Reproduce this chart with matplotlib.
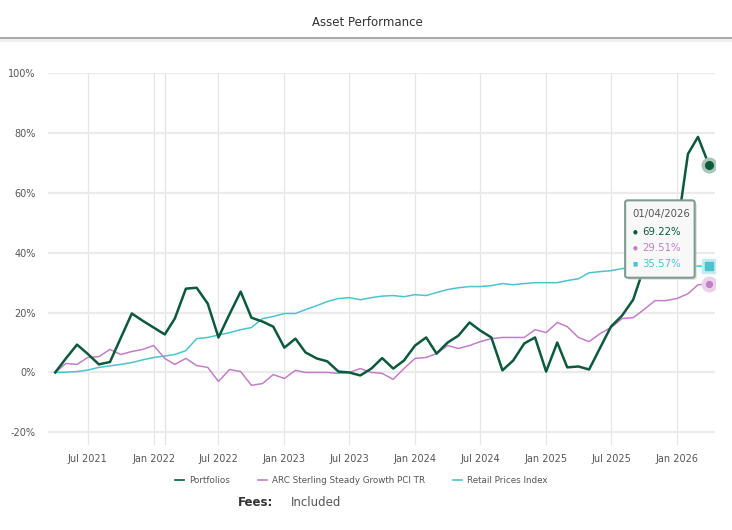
import pandas as pd
import matplotlib.pyplot as plt
import matplotlib.dates as mdates
from matplotlib.patches import FancyBboxPatch
from matplotlib.ticker import FuncFormatter

# Monthly cumulative returns (%), Apr 2021 - Apr 2026
dates = pd.date_range("2021-04-01", periods=61, freq="MS")

portfolios = [0, 4.7, 9.3, 6.2, 2.7, 3.5, 11.5, 19.7, 17.3, 15.0,
              12.7, 18.0, 28.0, 28.3, 23.0, 11.7, 19.5, 27.0, 18.3, 17.0,
              15.3, 8.3, 11.3, 6.7, 4.7, 3.7, 0.3, 0.0, -1.0, 1.3,
              4.8, 1.3, 4.0, 9.0, 11.7, 6.3, 10.0, 12.3, 16.7, 14.0,
              11.7, 0.7, 4.0, 9.7, 11.7, 0.3, 10.0, 1.7, 2.0, 1.0,
              8.3, 15.3, 19.0, 24.3, 35.0, 39.0, 43.0, 47.0, 73.0, 78.7,
              69.22]

arc = [0, 3.0, 2.7, 5.0, 5.3, 7.7, 6.0, 7.0, 7.7, 9.0,
       4.7, 2.7, 4.7, 2.3, 1.7, -3.0, 1.0, 0.3, -4.3, -3.7,
       -0.7, -2.0, 0.7, 0.0, 0.0, 0.0, -0.3, 0.0, 1.3, 0.0,
       -0.3, -2.3, 1.3, 4.7, 5.0, 6.3, 9.0, 8.0, 9.0, 10.3,
       11.3, 11.7, 11.7, 11.7, 14.3, 13.3, 16.7, 15.3, 11.7, 10.3,
       13.0, 15.0, 18.0, 18.3, 21.0, 24.0, 24.0, 24.7, 26.3, 29.3,
       29.51]

rpi = [0, 0.1, 0.3, 0.8, 1.7, 2.2, 2.7, 3.3, 4.2, 5.0,
       5.5, 6.0, 7.3, 11.3, 11.7, 12.5, 13.3, 14.3, 15.0, 18.0,
       18.7, 19.7, 19.7, 21.0, 22.3, 23.7, 24.7, 25.0, 24.3, 25.0,
       25.5, 25.7, 25.3, 26.0, 25.7, 26.7, 27.7, 28.3, 28.7, 28.7,
       29.0, 29.7, 29.3, 29.7, 30.0, 30.0, 30.0, 30.7, 31.3, 33.3,
       33.7, 34.0, 34.7, 35.0, 35.2, 35.3, 35.4, 35.5, 35.5, 35.5,
       35.57]

names = ["Portfolios", "ARC Sterling Steady Growth PCI TR", "Retail Prices Index"]
colors = ["#0b5a3c", "#c27fc8", "#4cc3cd"]
halos = ["#a9c4b8", "#e8d2ea", "#c4ecef"]

fig = plt.figure(figsize=(7.32, 5.30), dpi=100)
ax = fig.add_axes([0.0656, 0.160, 0.9114, 0.702])

ax.plot(dates, rpi, color=colors[2], lw=1.1, label=names[2], zorder=3)
ax.plot(dates, arc, color=colors[1], lw=1.1, label=names[1], zorder=4)
ax.plot(dates, portfolios, color=colors[0], lw=1.8, label=names[0], zorder=5)

# end-point markers with halos
ax.scatter(dates[-1], portfolios[-1], s=110, color=halos[0], zorder=6)
ax.scatter(dates[-1], portfolios[-1], s=30, color=colors[0], zorder=7)
ax.scatter(dates[-1], arc[-1], s=110, color=halos[1], zorder=6)
ax.scatter(dates[-1], arc[-1], s=18, color=colors[1], zorder=7)
ax.scatter(dates[-1], rpi[-1], s=100, marker="s", color=halos[2], zorder=6)
ax.scatter(dates[-1], rpi[-1], s=40, marker="s", color=colors[2], zorder=7)

ax.set_xlim(pd.Timestamp("2021-03-12"), pd.Timestamp("2026-04-18"))
ax.set_ylim(-24.3, 100)
ax.set_yticks(range(-20, 101, 20))
ax.yaxis.set_major_formatter(FuncFormatter(lambda v, p: f"{v:.0f}%"))
ax.xaxis.set_major_locator(mdates.MonthLocator(bymonth=[1, 7]))
ax.xaxis.set_major_formatter(mdates.DateFormatter("%b %Y"))
ax.tick_params(length=0, labelsize=7, colors="#555555", pad=6)
ax.tick_params(axis="y", pad=9)
ax.grid(axis="y", color="#ebebeb", lw=1.6)
ax.grid(axis="x", color="#e6e6e6", lw=0.9)
ax.axvline(pd.Timestamp("2022-02-01"), color="#e3e3e3", lw=0.9, zorder=0)
ax.set_axisbelow(True)
for s in ax.spines.values():
    s.set_visible(False)

# title and rule
fig.text(0.502, 0.958, "Asset Performance", ha="center", va="center",
         fontsize=8.5, color="#333333")
fig.add_artist(plt.Line2D([0, 1], [0.928, 0.928], color="#9a9a9a", lw=1.2))
fig.add_artist(plt.Line2D([0, 1], [0.924, 0.924], color="#eeeeee", lw=2))

# legend
handles, labels = ax.get_legend_handles_labels()
order = [2, 1, 0]
fig.legend([handles[i] for i in order], [labels[i] for i in order],
           loc="center", bbox_to_anchor=(0.493, 0.094), ncol=3, frameon=False,
           fontsize=6.3, handlelength=1.1, handletextpad=0.5, columnspacing=3.2,
           labelcolor="#555555")
for line in fig.legends[0].get_lines():
    line.set_linewidth(1.2)

fig.text(0.325, 0.051, "Fees:", fontsize=8.5, fontweight="bold", color="#333333",
         va="center")
fig.text(0.398, 0.051, "Included", fontsize=8.5, color="#555555", va="center")

# tooltip
shadow = FancyBboxPatch((0.857, 0.472), 0.095, 0.145, boxstyle="round,pad=0,rounding_size=0.004",
                        transform=fig.transFigure, facecolor="#cccccc", edgecolor="none",
                        alpha=0.6, zorder=8)
box = FancyBboxPatch((0.854, 0.476), 0.095, 0.146, boxstyle="round,pad=0,rounding_size=0.004",
                     transform=fig.transFigure, facecolor="#f8f8f8", edgecolor="#7e9c92",
                     lw=1.5, zorder=9)
fig.add_artist(shadow)
fig.add_artist(box)
tx = 0.864
fig.text(tx, 0.597, dates[-1].strftime("%d/%m/%Y"), fontsize=7.3, color="#555555",
         va="center", zorder=10)
vals = [portfolios[-1], arc[-1], rpi[-1]]
bullets = ["\u25cf", "\u25cf", "\u25a0"]
for k, (v, b) in enumerate(zip(vals, bullets)):
    y = 0.562 - k * 0.030
    fig.text(tx, y, b, fontsize=4, color=colors[k], va="center", zorder=10)
    fig.text(tx + 0.013, y, f"{v:.2f}%", fontsize=7.3, color=colors[k], va="center", zorder=10)

fig.savefig("out.png", dpi=100)
